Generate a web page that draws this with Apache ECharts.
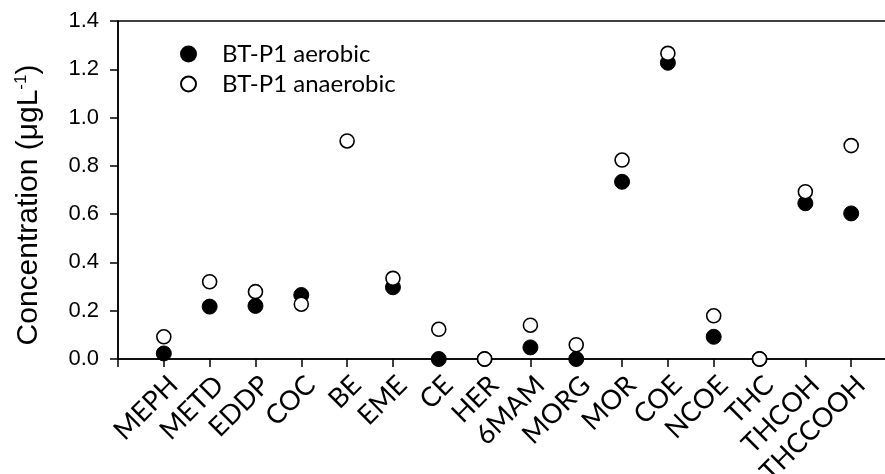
<!DOCTYPE html>
<html>
<head>
<meta charset="utf-8">
<script src="https://cdn.jsdelivr.net/npm/echarts@6/dist/echarts.min.js"></script>
<style>
  html, body { margin: 0; padding: 0; background: #fff; }
  #chart { width: 885px; height: 474px; }
</style>
</head>
<body>
<div id="chart"></div>
<script>
// Compounds measured, in axis order
const compounds = ['MEPH', 'METD', 'EDDP', 'COC', 'BE', 'EME', 'CE', 'HER', '6MAM', 'MORG',
                   'MOR', 'COE', 'NCOE', 'THC', 'THCOH', 'THCCOOH'];
// Concentrations (µg/L)
const aerobic   = [0.023, 0.217, 0.220, 0.265, null, 0.297, 0.000, 0.000, 0.048, 0.000,
                   0.734, 1.227, 0.092, 0.000, 0.645, 0.603];
const anaerobic = [0.092, 0.320, 0.279, 0.227, 0.903, 0.334, 0.123, 0.000, 0.140, 0.059,
                   0.824, 1.266, 0.179, 0.000, 0.693, 0.884];
const yTicks = [0.0, 0.2, 0.4, 0.6, 0.8, 1.0, 1.2, 1.4];
const seriesNames = ['BT-P1 aerobic', 'BT-P1 anaerobic'];

// Pad the category axis with an empty slot on each side so compounds sit between the frame edges
const axisCats = [''].concat(compounds, ['']);
const pad = arr => [null].concat(arr, [null]);

const axisFont = 'Liberation Sans, Arial, sans-serif';
const labelFont = 'Lato, Open Sans, sans-serif';
const chart = echarts.init(document.getElementById('chart'), null, { renderer: 'canvas' });
chart.setOption({
  animation: false,
  backgroundColor: '#fff',
  grid: {
    left: 118, top: 21, right: -12, bottom: 115,
    outerBoundsMode: 'none', containLabel: false,
    show: true, borderColor: '#000', borderWidth: 1.5, backgroundColor: 'transparent'
  },
  legend: {
    orient: 'vertical',
    left: 180, top: 42, padding: 0,
    itemWidth: 15, itemHeight: 15, itemGap: 6,
    data: seriesNames,
    textStyle: {
      fontFamily: labelFont, fontSize: 24, lineHeight: 24, color: '#000',
      padding: [0, 0, 0, 21]
    }
  },
  xAxis: {
    type: 'category',
    data: axisCats,
    boundaryGap: false,
    axisLine: { lineStyle: { color: '#000', width: 1.5 } },
    axisTick: { show: true, inside: false, length: 8, lineStyle: { color: '#000', width: 1.5 }, alignWithLabel: true },
    axisLabel: {
      interval: 0, rotate: 45, margin: 12, verticalAlign: 'top', align: 'right',
      fontFamily: labelFont, fontSize: 27, color: '#000'
    },
    splitLine: { show: false }
  },
  yAxis: {
    type: 'value',
    min: 0, max: 1.4, interval: 0.2,
    name: 'Concentration (μgL{sup|-1})',
    nameLocation: 'middle',
    nameGap: 74,
    nameRotate: 90,
    nameTextStyle: {
      fontFamily: axisFont, fontSize: 30, color: '#000',
      padding: [0, 30, 0, 0],
      rich: { sup: { fontFamily: axisFont, fontSize: 17, color: '#000', verticalAlign: 'top', padding: [0, 0, 14, 0] } }
    },
    axisLine: { show: true, lineStyle: { color: '#000', width: 1.5 } },
    axisTick: { show: true, inside: false, length: 8, lineStyle: { color: '#000', width: 1.5 } },
    axisLabel: {
      margin: 19, fontFamily: axisFont, fontSize: 22, color: '#000',
      formatter: v => yTicks.includes(Math.round(v * 10) / 10) ? v.toFixed(1) : ''
    },
    splitLine: { show: false }
  },
  series: [
    {
      name: seriesNames[0], type: 'scatter', data: pad(aerobic),
      symbol: 'circle', symbolSize: 15, z: 2,
      itemStyle: { color: '#000', borderColor: '#000', borderWidth: 1, opacity: 1 }
    },
    {
      name: seriesNames[1], type: 'scatter', data: pad(anaerobic),
      symbol: 'circle', symbolSize: 14, z: 3,
      itemStyle: { color: '#fff', borderColor: '#000', borderWidth: 1.6, opacity: 1 }
    }
  ]
});
</script>
</body>
</html>
